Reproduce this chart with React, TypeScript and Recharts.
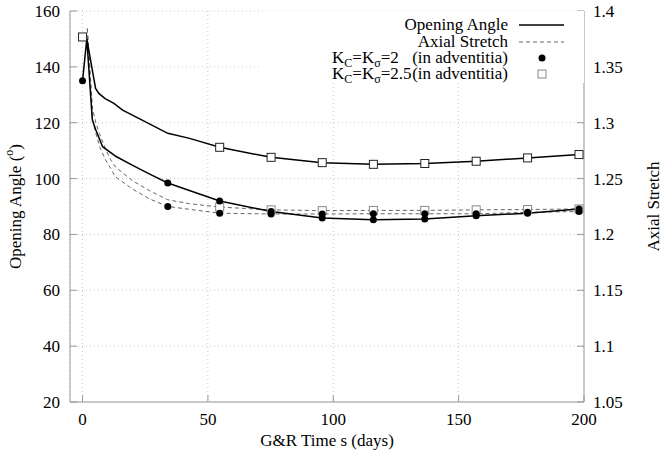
import React from 'react';
import { ComposedChart, Line, Scatter, XAxis, YAxis, CartesianGrid, Legend } from 'recharts';

const xTicks = [0, 50, 100, 150, 200];
const angleTicks = [20, 40, 60, 80, 100, 120, 140, 160];
const stretchTicks = [1.05, 1.1, 1.15, 1.2, 1.25, 1.3, 1.35, 1.4];

// opening angle curves (degrees)
const angleTimesK2 = [0, 1.7, 3.9, 5.3, 8, 13.4, 20, 27, 34, 54.7, 75.2, 95.6, 116, 136.5, 157, 177.5, 198];
const angleK2 = [135, 150, 121, 117.4, 111.4, 107.9, 104.7, 101.5, 98.4, 92.0, 88.2, 85.9, 85.25, 85.5, 86.7, 87.6, 89.1];
const angleTimesK25 = [0, 1.7, 5.2, 6.5, 9, 12.5, 16, 23.2, 34, 42.7, 54.7, 75.2, 95.6, 116, 136.5, 157, 177.5, 198];
const angleK25 = [150.7, 150, 132.3, 130.5, 128.6, 126.9, 124.5, 121.2, 116.2, 114.4, 111.2, 107.6, 105.7, 105.1, 105.4, 106.2, 107.4, 108.6];

// axial stretch curves
const stretchTimesK2 = [1.9, 4, 5.3, 7, 9, 11.3, 13, 20, 27, 34, 54.7, 75.2, 95.6, 116, 136.5, 157, 177.5, 198];
const stretchK2 = [1.3843, 1.3025, 1.2905, 1.2775, 1.2675, 1.2588, 1.2518, 1.2405, 1.2315, 1.225, 1.219, 1.2183, 1.2183, 1.2185, 1.2185, 1.2185, 1.2198, 1.2205];
const stretchTimesK25 = [1.9, 4, 5.3, 6.7, 9, 11, 13.3, 20, 27, 34, 42.7, 54.7, 75.2, 95.6, 116, 136.5, 157, 177.5, 198];
const stretchK25 = [1.3843, 1.3125, 1.3, 1.2905, 1.2775, 1.2675, 1.26, 1.248, 1.2388, 1.231, 1.2275, 1.2245, 1.222, 1.2213, 1.2215, 1.2215, 1.222, 1.2223, 1.2228];

// marker positions
const circleAngleTimes = [0, 34, 54.7, 75.2, 95.6, 116, 136.5, 157, 177.5, 198];
const circleAngle = [135, 98.4, 92.0, 88.2, 85.9, 85.25, 85.5, 86.7, 87.6, 89.1];
const circleStretchTimes = [34, 54.7, 75.2, 95.6, 116, 136.5, 157, 177.5, 198];
const circleStretch = [1.225, 1.219, 1.2183, 1.2183, 1.2185, 1.2185, 1.2185, 1.2198, 1.2205];
const squareAngleTimes = [0, 54.7, 75.2, 95.6, 116, 136.5, 157, 177.5, 198];
const squareAngle = [150.7, 111.2, 107.6, 105.7, 105.1, 105.4, 106.2, 107.4, 108.6];
const squareStretchTimes = [54.7, 75.2, 95.6, 116, 136.5, 157, 177.5, 198];
const squareStretch = [1.2245, 1.222, 1.2213, 1.2215, 1.2215, 1.222, 1.2223, 1.2228];

const legendLines = ['Opening Angle', 'Axial Stretch'];
const legendCases = ['2', '2.5'];
const legendNote = '(in adventitia)';

const pts = (ts: number[], vs: number[]) => ts.map((t, i) => ({ t, v: vs[i] }));

const FONT = "'Liberation Serif', 'DejaVu Serif', serif";
const AXIS = '#999';
const DASH = '#666';
const txt = { fontFamily: FONT, fontSize: 17 };

const Dot = (p: any) => <circle cx={p.cx} cy={p.cy} r={3.5} fill="#000" />;
const BlackSquare = (p: any) => <rect x={p.cx - 4} y={p.cy - 4} width={8} height={8} fill="#fff" stroke="#222" strokeWidth={1} />;
const GreySquare = (p: any) => <rect x={p.cx - 4} y={p.cy - 4} width={8} height={8} fill="#fff" stroke="#888" strokeWidth={1} />;

const BottomTick = (p: any) => (
    <text x={p.x} y={p.y} dy="0.71em" textAnchor="middle" style={txt} fill="#000">{p.payload.value}</text>
);
const LeftTick = (p: any) => (
    <text x={p.x} y={p.y} dy="0.35em" textAnchor="end" style={txt} fill="#000">{p.payload.value}</text>
);
const RightTick = (p: any) => (
    <text x={p.x} y={p.y} dy="0.35em" textAnchor="start" style={txt} fill="#000">{p.payload.value}</text>
);

function KLabel({ x, y, k }: { x: number; y: number; k: string }) {
    return (
        <text x={x} y={y} style={txt} fill="#000">
            <tspan>K</tspan>
            <tspan dy={4} style={{ fontSize: 12 }}>C</tspan>
            <tspan dy={-4}>=K</tspan>
            <tspan dy={4} style={{ fontSize: 12 }}>σ</tspan>
            <tspan dy={-4}>={k}</tspan>
        </text>
    );
}

function LegendBox() {
    const rows = [14, 31, 47, 63];
    return (
        <svg width={324} height={72} style={{ display: 'block', overflow: 'visible' }}>
            <rect x={0} y={0} width={324} height={72} fill="#fff" />
            {legendLines.map((s, i) => (
                <text key={s} x={248} y={rows[i] + 5} textAnchor="end" style={txt}>{s}</text>
            ))}
            <line x1={259} x2={304} y1={rows[0]} y2={rows[0]} stroke="#000" strokeWidth={1.5} />
            <line x1={259} x2={304} y1={rows[1]} y2={rows[1]} stroke={DASH} strokeDasharray="4 3" />
            {legendCases.map((k, i) => (
                <g key={k}>
                    <KLabel x={72} y={rows[i + 2] + 5} k={k} />
                    <text x={248} y={rows[i + 2] + 5} textAnchor="end" style={txt}>{legendNote}</text>
                </g>
            ))}
            <circle cx={282} cy={rows[2]} r={3.5} fill="#000" />
            <rect x={278} y={rows[3] - 4} width={8} height={8} fill="#fff" stroke="#888" />
        </svg>
    );
}

export default function App() {
    return (
        <div style={{ position: 'absolute', left: 0, top: 0, background: '#fff', fontFamily: FONT }}>
            <ComposedChart width={664} height={459} margin={{ top: 11, right: 0, bottom: 0, left: 0 }}>
                <CartesianGrid yAxisId="left" stroke="#c8c8c8" strokeDasharray="1 3" />
                <XAxis type="number" dataKey="t" domain={[-5, 200]} ticks={xTicks} interval={0}
                    height={57} tick={BottomTick} stroke={AXIS} tickSize={-7} tickMargin={18}
                    label={{
                        content: (props: any) => {
                            const cx = props.viewBox.x + props.viewBox.width / 2;
                            return (
                                <text x={cx} y={446} textAnchor="middle" style={txt} fill="#000">G&amp;R Time s (days)</text>
                            );
                        },
                    }} />
                <XAxis xAxisId="top" orientation="top" type="number" dataKey="t" domain={[-5, 200]} ticks={xTicks}
                    interval={0} height={0} tick={() => <g />} stroke={AXIS} tickSize={-7} />
                <YAxis yAxisId="left" type="number" domain={[20, 160]} ticks={angleTicks} interval={0}
                    width={70} tick={LeftTick} stroke={AXIS} tickSize={-7} tickMargin={17}
                    label={{
                        content: (props: any) => {
                            const cx = 15;
                            const cy = props.viewBox.y + props.viewBox.height / 2;
                            return (
                                <text x={cx} y={cy} transform={`rotate(-90, ${cx}, ${cy})`} textAnchor="middle"
                                    dominantBaseline="central" style={txt} fill="#000">
                                    Opening Angle (<tspan dy={-6} style={{ fontSize: 12 }}>o</tspan><tspan dy={6}>)</tspan>
                                </text>
                            );
                        },
                    }} />
                <YAxis yAxisId="right" orientation="right" type="number" domain={[1.05, 1.4]} ticks={stretchTicks}
                    interval={0} width={80} tick={RightTick} stroke={AXIS} tickSize={-7} tickMargin={16}
                    label={{
                        content: (props: any) => {
                            const cx = 653;
                            const cy = props.viewBox.y + props.viewBox.height / 2;
                            return (
                                <text x={cx} y={cy} transform={`rotate(-90, ${cx}, ${cy})`} textAnchor="middle"
                                    dominantBaseline="central" style={txt} fill="#000">
                                    Axial Stretch
                                </text>
                            );
                        },
                    }} />
                <Legend layout="horizontal" verticalAlign="middle" align="center"
                    wrapperStyle={{ left: 260, top: 11, width: 324, height: 72 }} content={() => <LegendBox />} />

                <Line yAxisId="right" data={pts(stretchTimesK2, stretchK2)} dataKey="v" stroke={DASH} strokeWidth={1}
                    strokeDasharray="4 3" dot={false} isAnimationActive={false} />
                <Line yAxisId="right" data={pts(stretchTimesK25, stretchK25)} dataKey="v" stroke={DASH} strokeWidth={1}
                    strokeDasharray="4 3" dot={false} isAnimationActive={false} />
                <Line yAxisId="left" data={pts(angleTimesK2, angleK2)} dataKey="v" stroke="#000" strokeWidth={1.5}
                    dot={false} isAnimationActive={false} />
                <Line yAxisId="left" data={pts(angleTimesK25, angleK25)} dataKey="v" stroke="#000" strokeWidth={1.5}
                    dot={false} isAnimationActive={false} />

                <Scatter yAxisId="left" data={pts(squareAngleTimes, squareAngle)} dataKey="v" shape={BlackSquare} isAnimationActive={false} />
                <Scatter yAxisId="right" data={pts(squareStretchTimes, squareStretch)} dataKey="v" shape={GreySquare} isAnimationActive={false} />
                <Scatter yAxisId="left" data={pts(circleAngleTimes, circleAngle)} dataKey="v" shape={Dot} isAnimationActive={false} />
                <Scatter yAxisId="right" data={pts(circleStretchTimes, circleStretch)} dataKey="v" shape={Dot} isAnimationActive={false} />
            </ComposedChart>
        </div>
    );
}
